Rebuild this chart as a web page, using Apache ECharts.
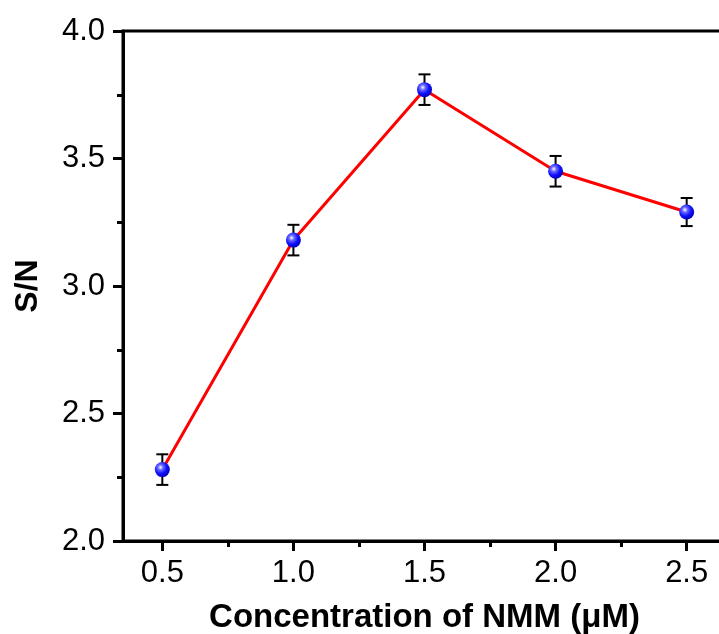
<!DOCTYPE html>
<html>
<head>
<meta charset="utf-8">
<script src="https://cdn.jsdelivr.net/npm/echarts@6/dist/echarts.min.js"></script>
<style>
  html, body { margin: 0; padding: 0; overflow: hidden; background: #fff; }
  #chart { width: 760px; height: 634px; }
</style>
</head>
<body>
<div id="chart"></div>
<script>
// NMM concentration (uM) vs S/N
var concentration = [0.5, 1.0, 1.5, 2.0, 2.5];
var snValues = [2.28, 3.18, 3.77, 3.45, 3.29];
var snErrors = [0.06, 0.06, 0.06, 0.06, 0.055];
var xMajorTicks = [0.5, 1.0, 1.5, 2.0, 2.5];
var xMinorTicks = [0.75, 1.25, 1.75, 2.25];

var font = "'Liberation Sans', Arial, sans-serif";

var lineData = concentration.map(function (x, i) { return [x, snValues[i]]; });
var errData = concentration.map(function (x, i) {
  return [x, snValues[i] - snErrors[i], snValues[i] + snErrors[i]];
});

var chart = echarts.init(document.getElementById('chart'));
chart.setOption({
  animation: false,
  grid: {
    left: 123, top: 31, width: 603, height: 510,
    outerBoundsMode: 'none', containLabel: false,
    show: true, borderColor: '#000', borderWidth: 3, backgroundColor: 'transparent'
  },
  xAxis: [
    {
      type: 'value', min: 0.35, max: 2.65,
      name: 'Concentration of NMM (\u03bcM)',
      nameLocation: 'middle', nameGap: 60,
      nameTextStyle: { color: '#000', fontSize: 33, fontWeight: 'bold', fontFamily: font },
      axisLine: { show: true, lineStyle: { color: '#000', width: 3 } },
      axisTick: { show: true, inside: false, length: 10, customValues: xMajorTicks,
        lineStyle: { color: '#000', width: 3 } },
      axisLabel: { customValues: xMajorTicks, margin: 17, color: '#000', fontSize: 31, fontFamily: font,
        formatter: function (v) { return v.toFixed(1); } },
      splitLine: { show: false }
    },
    {
      type: 'value', min: 0.35, max: 2.65, position: 'bottom',
      axisLine: { show: false },
      axisTick: { show: true, inside: false, length: 6, customValues: xMinorTicks,
        lineStyle: { color: '#000', width: 3 } },
      axisLabel: { show: false },
      splitLine: { show: false }
    }
  ],
  yAxis: {
    type: 'value', min: 2.0, max: 4.0, interval: 0.5,
    name: 'S/N', nameLocation: 'middle', nameGap: 79,
    nameTextStyle: { color: '#000', fontSize: 32, fontWeight: 'bold', fontFamily: font },
    axisLine: { show: true, lineStyle: { color: '#000', width: 3 } },
    axisTick: { show: true, inside: false, length: 10, lineStyle: { color: '#000', width: 3 } },
    minorTick: { show: true, splitNumber: 2, length: 6, lineStyle: { color: '#000', width: 3 } },
    axisLabel: { margin: 18, color: '#000', fontSize: 31, fontFamily: font,
      formatter: function (v) { return v.toFixed(1); } },
    splitLine: { show: false }
  },
  series: [
    {
      type: 'custom',
      z: 1,
      data: errData,
      renderItem: function (params, api) {
        var x = api.value(0);
        var lo = api.coord([x, api.value(1)]);
        var hi = api.coord([x, api.value(2)]);
        var half = 6;
        var style = { stroke: '#000', lineWidth: 2 };
        return {
          type: 'group',
          children: [
            { type: 'line', shape: { x1: lo[0], y1: lo[1], x2: hi[0], y2: hi[1] }, style: style },
            { type: 'line', shape: { x1: lo[0] - half, y1: lo[1], x2: lo[0] + half, y2: lo[1] }, style: style },
            { type: 'line', shape: { x1: hi[0] - half, y1: hi[1], x2: hi[0] + half, y2: hi[1] }, style: style }
          ]
        };
      }
    },
    {
      type: 'line',
      z: 2,
      data: lineData,
      lineStyle: { color: '#ff0000', width: 3 },
      symbol: 'circle',
      symbolSize: 15,
      itemStyle: {
        color: {
          type: 'radial', x: 0.38, y: 0.35, r: 0.7,
          colorStops: [
            { offset: 0, color: '#ffffff' },
            { offset: 0.25, color: '#6a6aff' },
            { offset: 0.6, color: '#1010ff' },
            { offset: 1, color: '#0000b0' }
          ]
        },
        borderWidth: 0
      }
    }
  ]
});
</script>
</body>
</html>
